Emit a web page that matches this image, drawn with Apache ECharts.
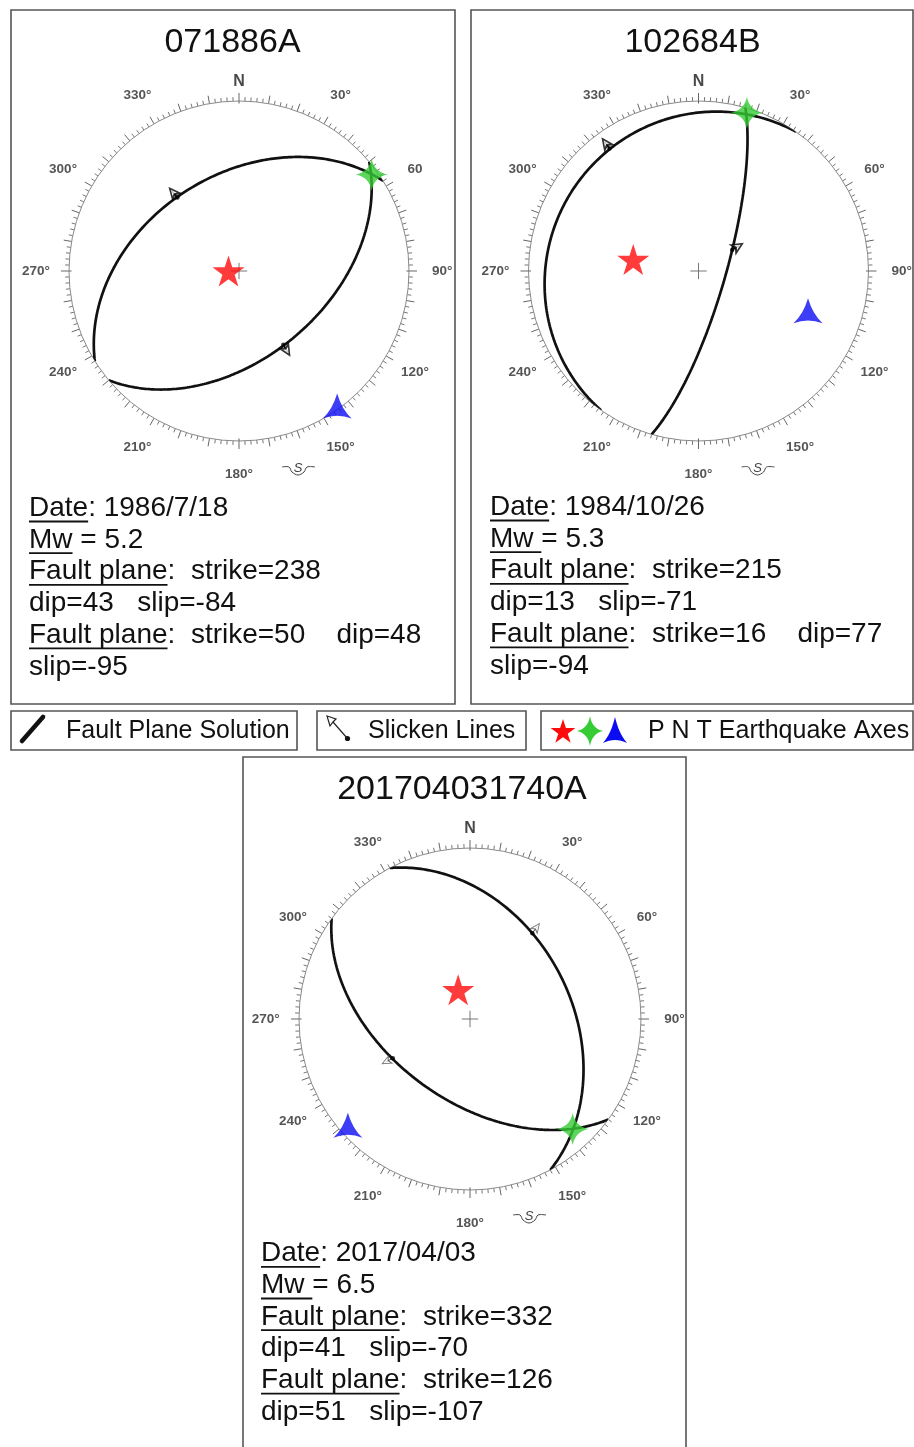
<!DOCTYPE html>
<html><head><meta charset="utf-8">
<script src="https://cdn.jsdelivr.net/npm/echarts@6/dist/echarts.min.js"></script>
<style>html,body{margin:0;padding:0;background:#fff}#c{width:914px;height:1447px}</style>
</head><body><div id="c"></div>
<script>
// ---------------- DATA ----------------
const eventIds = ['071886A', '102684B', '201704031740A'];
const dates = ['1986/7/18', '1984/10/26', '2017/04/03'];
const magnitudes = ['5.2', '5.3', '6.5'];
const plane1Strike = [238, 215, 332];
const plane1Dip = [43, 13, 41];
const plane1Slip = [-84, -71, -70];
const plane2Strike = [50, 16, 126];
const plane2Dip = [48, 77, 51];
const plane2Slip = [-95, -94, -107];
// P, N, T earthquake axes: trend / plunge (deg), read from the nets
const pTrend = [270, 280, 338], pPlunge = [85, 58, 75];
const nTrend = [54, 17, 137],  nPlunge = [4, 3, 13];
const tTrend = [144, 110, 229], tPlunge = [2, 32, 6];
// slicken lines on plane 1 and plane 2: trend / plunge (deg)
const slick1Trend = [320, 324, 36], slick1Plunge = [43, 12, 38];
const slick2Trend = [149, 58, 243], slick2Plunge = [48, 71, 48];
// azimuth tick labels
const tickAngles = [0, 30, 60, 90, 120, 150, 180, 210, 240, 270, 300, 330];
const tickLabels1 = ['N', '30°', '60', '90°', '120°', '150°', '180°', '210°', '240°', '270°', '300°', '330°'];
const tickLabels2 = ['N', '30°', '60°', '90°', '120°', '150°', '180°', '210°', '240°', '270°', '300°', '330°'];
const tickLabels3 = ['N', '30°', '60°', '90°', '120°', '150°', '180°', '210°', '240°', '270°', '300°', '330°'];
const cardinalAngles = [0, 90, 180, 270];
const legendTexts = ['Fault Plane Solution', 'Slicken Lines', 'P N T Earthquake Axes'];

// ---------------- LAYOUT / STYLE ----------------
const tickLabelSets = [tickLabels1, tickLabels2, tickLabels3];
const centers = [[239, 271], [698.5, 271], [470, 1019]];
const radii = [170, 170, 171];
const FONT = '"Liberation Sans", Arial, Helvetica, sans-serif';
const RED = '#ff0a0a', GREEN = '#36cc36', BLUE = '#0c0cf2';

const deg = Math.PI / 180;
function eqArea(pl) { return Math.SQRT2 * Math.sin((90 - pl) / 2 * deg); }
function greatCircle(strike, dip) {
  const pts = [];
  const s = strike * deg, d = dip * deg, dd = (strike + 90) * deg;
  const sv = [Math.cos(s), Math.sin(s), 0];
  const dv = [Math.cos(d) * Math.cos(dd), Math.cos(d) * Math.sin(dd), Math.sin(d)];
  for (let t = 0; t <= 180; t += 1) {
    const c = Math.cos(t * deg), sn = Math.sin(t * deg);
    const n = c * sv[0] + sn * dv[0], e = c * sv[1] + sn * dv[1], z = c * sv[2] + sn * dv[2];
    let tr = Math.atan2(e, n) / deg; if (tr < 0) tr += 360;
    const pl = Math.asin(Math.max(-1, Math.min(1, z))) / deg;
    pts.push([eqArea(pl), tr]);
  }
  return pts;
}

// symbol shapes (100x100 box)
const STAR5 = 'path://M50,2 L61.23,36.55 L97.55,36.55 L68.17,57.9 L79.39,92.45 L50,71.1 L20.61,92.45 L31.83,57.9 L2.45,36.55 L38.77,36.55 Z';
const STAR4 = 'path://M50,0 Q58,42 100,50 Q58,58 50,100 Q42,58 0,50 Q42,42 50,0 Z';
const TRI3 = 'path://M50,0 Q66,56 100,88 Q50,68 0,88 Q34,56 50,0 Z';

const polar = [], angleAxis = [], radiusAxis = [], series = [];
for (let k = 0; k < 3; k++) {
  polar.push({ center: centers[k], radius: radii[k] });
  angleAxis.push({
    polarIndex: k, type: 'value', min: 0, max: 360, interval: 10, startAngle: 90, clockwise: true, silent: true,
    axisLine: { show: true, lineStyle: { color: '#8a8a8a', width: 1 } },
    axisTick: { show: true, length: 8, lineStyle: { color: '#666', width: 1 } },
    minorTick: { show: true, splitNumber: 5, length: 4, lineStyle: { color: '#777', width: 1 } },
    axisLabel: { show: false }, splitLine: { show: false }, minorSplitLine: { show: false }
  });
  radiusAxis.push({ polarIndex: k, min: 0, max: 1, show: false });
  const base = { coordinateSystem: 'polar', polarIndex: k, clip: false, silent: true, animation: false };
  // cardinal long ticks
  cardinalAngles.forEach(a => series.push({ ...base, type: 'line', symbol: 'none', z: 2,
    data: [[0.985, a], [1.09, a]], lineStyle: { color: '#666', width: 1.1 } }));
  // centre cross
  [[0, 180], [90, 270]].forEach(p => series.push({ ...base, type: 'line', symbol: 'none', z: 2,
    data: [[0.048, p[0]], [0.048, p[1]]], lineStyle: { color: '#777', width: 1 } }));
  // azimuth labels
  const labs = tickLabelSets[k];
  series.push({ ...base, type: 'scatter', z: 2, symbol: 'circle', symbolSize: 1,
    itemStyle: { color: 'rgba(0,0,0,0)' },
    data: tickAngles.map((a, i) => [i === 0 ? 1.115 : 1.195, a]),
    label: { show: true, position: 'inside', color: '#333', fontFamily: FONT,
      formatter: p => p.dataIndex === 0 ? '{n|' + labs[0] + '}' : '{d|' + labs[p.dataIndex] + '}',
      rich: { n: { fontSize: 16, fontWeight: 'bold', color: '#1a1a1a', fontFamily: FONT },
              d: { fontSize: 13.5, fontWeight: 'bold', color: '#2a2a2a', fontFamily: FONT } } } });
  // fault planes
  series.push({ ...base, type: 'line', symbol: 'none', z: 3, data: greatCircle(plane1Strike[k], plane1Dip[k]),
    lineStyle: { color: '#111', width: 2.7 } });
  series.push({ ...base, type: 'line', symbol: 'none', z: 3, data: greatCircle(plane2Strike[k], plane2Dip[k]),
    lineStyle: { color: '#111', width: 2.7 } });
  // slicken lines
  const hollow = k === 2;
  [[slick1Trend[k], slick1Plunge[k]], [slick2Trend[k], slick2Plunge[k]]].forEach(([tr, pl]) => {
    const r0 = eqArea(pl), r1 = r0 + 0.07;
    series.push({ ...base, type: 'line', symbol: 'none', z: 4, data: [[r0, tr], [r1 - 0.02, tr]],
      lineStyle: { color: hollow ? '#444' : '#111', width: hollow ? 1 : 1.8 } });
    series.push({ ...base, type: 'scatter', z: 4, symbol: 'arrow', symbolSize: hollow ? [6, 9] : [7, 10],
      data: [{ value: [r1, tr], symbolRotate: -tr }],
      itemStyle: hollow ? { color: '#fff', borderColor: '#555', borderWidth: 1 } : { color: '#fff', borderColor: '#000', borderWidth: 1.8 } });
    series.push({ ...base, type: 'scatter', z: 4, symbol: 'circle', symbolSize: 4.5, data: [[r0, tr]],
      itemStyle: { color: '#000' } });
  });
  // P N T axes
  series.push({ ...base, type: 'scatter', z: 6, symbol: STAR5, symbolSize: [32, 31],
    data: [[eqArea(pPlunge[k]), pTrend[k]]], itemStyle: { color: RED } });
  series.push({ ...base, type: 'scatter', z: 6, symbol: STAR4, symbolSize: [32, 32],
    data: [[eqArea(nPlunge[k]), nTrend[k]]], itemStyle: { color: GREEN } });
  series.push({ ...base, type: 'scatter', z: 6, symbol: TRI3, symbolSize: [29, 25],
    data: [[eqArea(tPlunge[k]), tTrend[k]]], itemStyle: { color: BLUE } });
}

// ---------------- GRAPHIC (frames, texts, legend) ----------------
const mctx = document.createElement('canvas').getContext('2d');
function tw(t, size) { mctx.font = size + 'px ' + FONT; return mctx.measureText(t).width; }
const G = [];
function rect(x, y, w, h) {
  G.push({ type: 'rect', shape: { x, y, width: w, height: h }, silent: true,
    style: { fill: 'none', stroke: '#555', lineWidth: 1.6 } });
}
function text(x, baseline, str, size, align) {
  G.push({ type: 'text', x, y: baseline - 0.3465 * size, silent: true,
    style: { text: str, fill: '#111', font: size + 'px ' + FONT, textAlign: align || 'left', textVerticalAlign: 'middle',
      align: align || 'left', verticalAlign: 'middle' } });
}
function textLine(x, baseline, segs, size) {
  let cx = x;
  segs.forEach(sg => {
    const w = tw(sg.t, size);
    text(cx, baseline, sg.t, size);
    if (sg.u) G.push({ type: 'line', silent: true, shape: { x1: cx, y1: baseline + 3.5, x2: cx + w, y2: baseline + 3.5 },
      style: { stroke: '#111', lineWidth: 1.8 } });
    cx += w;
  });
}

// panel frames
rect(11, 10, 444, 694);
rect(471, 10, 442, 694);
rect(243, 757, 443, 720);
// titles
text(232.5, 54, eventIds[0], 34, 'center');
text(692.5, 54, eventIds[1], 34, 'center');
text(462, 801.5, eventIds[2], 34, 'center');

// info texts
const textX = [29, 490, 261];
const textY0 = [518, 517, 1263.3];
const mwUnderlineSpace = [false, true, true];
const plane2DipOnStrikeLine = [true, true, false];
for (let k = 0; k < 3; k++) {
  const lines = [];
  lines.push([{ t: 'Date', u: 1 }, { t: ': ' + dates[k] }]);
  lines.push(mwUnderlineSpace[k] ? [{ t: 'Mw ', u: 1 }, { t: '= ' + magnitudes[k] }] : [{ t: 'Mw', u: 1 }, { t: ' = ' + magnitudes[k] }]);
  lines.push([{ t: 'Fault plane', u: 1 }, { t: ':  strike=' + plane1Strike[k] }]);
  lines.push([{ t: 'dip=' + plane1Dip[k] + '   slip=' + plane1Slip[k] }]);
  if (plane2DipOnStrikeLine[k]) {
    lines.push([{ t: 'Fault plane', u: 1 }, { t: ':  strike=' + plane2Strike[k] + '    dip=' + plane2Dip[k] }]);
    lines.push([{ t: 'slip=' + plane2Slip[k] }]);
  } else {
    lines.push([{ t: 'Fault plane', u: 1 }, { t: ':  strike=' + plane2Strike[k] }]);
    lines.push([{ t: 'dip=' + plane2Dip[k] + '   slip=' + plane2Slip[k] }]);
  }
  lines.forEach((segs, i) => textLine(textX[k], textY0[k] + 31.7 * i, segs, 28));
}

// "S" south marks
centers.forEach(([cx, cy]) => {
  G.push({ type: 'polyline', silent: true, shape: { smooth: 0.35, points: [[cx + 43, cy + 196], [cx + 50, cy + 196], [cx + 53, cy + 201], [cx + 59, cy + 204], [cx + 65, cy + 201], [cx + 68, cy + 196], [cx + 76, cy + 196]] },
    style: { stroke: '#444', lineWidth: 1, fill: 'none' } });
  G.push({ type: 'text', x: cx + 59, y: cy + 197, silent: true,
    style: { text: 'S', fill: '#444', font: 'italic 13px ' + FONT, textAlign: 'center', textVerticalAlign: 'middle', align: 'center', verticalAlign: 'middle' } });
});

// legend
rect(11, 711, 286, 39);
rect(317, 711, 209, 39);
rect(541, 711, 372, 39);
G.push({ type: 'line', silent: true, shape: { x1: 22, y1: 741, x2: 43, y2: 717 }, style: { stroke: '#111', lineWidth: 4.5, lineCap: 'round' } });
text(66, 740, legendTexts[0], 25);
// slicken icon
G.push({ type: 'line', silent: true, shape: { x1: 333, y1: 722, x2: 347, y2: 738 }, style: { stroke: '#222', lineWidth: 1.2 } });
G.push({ type: 'polygon', silent: true, shape: { points: [[327, 716], [336, 719], [333, 722], [330, 726]] }, style: { fill: '#fff', stroke: '#222', lineWidth: 1.2 } });
G.push({ type: 'circle', silent: true, shape: { cx: 347.5, cy: 738.5, r: 2.6 }, style: { fill: '#111' } });
text(368, 740, legendTexts[1], 25);
// PNT icons as polygons
function sampleQuad(p0, c, p1, n, out) {
  for (let i = 0; i < n; i++) { const t = i / n;
    out.push([(1 - t) * (1 - t) * p0[0] + 2 * (1 - t) * t * c[0] + t * t * p1[0], (1 - t) * (1 - t) * p0[1] + 2 * (1 - t) * t * c[1] + t * t * p1[1]]); }
}
function place(pts, cx, cy, w, h, bw, bh) { return pts.map(p => [cx + (p[0] / bw - 0.5) * w, cy + (p[1] / bh - 0.5) * h]); }
const star5pts = [[50,2],[61.23,36.55],[97.55,36.55],[68.17,57.9],[79.39,92.45],[50,71.1],[20.61,92.45],[31.83,57.9],[2.45,36.55],[38.77,36.55]];
const star4pts = []; sampleQuad([50,0],[58,42],[100,50],8,star4pts); sampleQuad([100,50],[58,58],[50,100],8,star4pts); sampleQuad([50,100],[42,58],[0,50],8,star4pts); sampleQuad([0,50],[42,42],[50,0],8,star4pts);
const tri3pts = []; sampleQuad([50,0],[66,56],[100,88],8,tri3pts); sampleQuad([100,88],[50,68],[0,88],8,tri3pts); sampleQuad([0,88],[34,56],[50,0],8,tri3pts);
G.push({ type: 'polygon', silent: true, shape: { points: place(star5pts, 563, 731, 26, 25, 100, 95) }, style: { fill: RED } });
G.push({ type: 'polygon', silent: true, shape: { points: place(star4pts, 590, 731, 26, 30, 100, 100) }, style: { fill: GREEN } });
G.push({ type: 'polygon', silent: true, shape: { points: place(tri3pts, 615, 730, 24, 26, 100, 88) }, style: { fill: BLUE } });
text(648, 740, legendTexts[2], 25);

const chart = echarts.init(document.getElementById('c'), null, { renderer: 'canvas' });
chart.setOption({
  animation: false,
  backgroundColor: '#fff',
  polar, angleAxis, radiusAxis, series,
  graphic: { elements: G }
});
</script></body></html>
